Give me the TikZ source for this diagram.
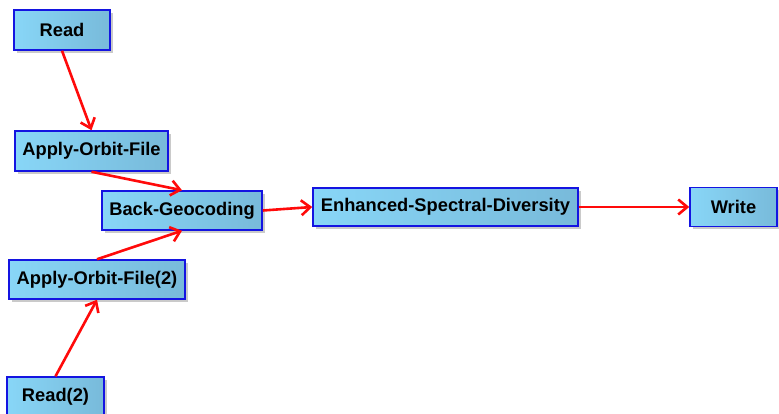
\documentclass[tikz,border=0pt]{standalone}
\usepackage{fontspec}
\setmainfont{Liberation Sans}
\usetikzlibrary{arrows.meta,shadows}
\definecolor{boxL}{RGB}{136,214,247}
\definecolor{boxR}{RGB}{120,186,218}
\definecolor{boxB}{RGB}{20,20,225}
\definecolor{arr}{RGB}{255,10,10}
\tikzset{
  opbox/.style={draw=boxB, line width=1.5pt, left color=boxL, right color=boxR,
    inner sep=0pt, font=\fontsize{18.3}{20}\selectfont\bfseries,
    drop shadow={shadow xshift=3pt, shadow yshift=-3pt, opacity=0.35, fill=black!60}},
  flow/.style={draw=arr, line width=2.6pt, -{Straight Barb[length=9pt,width=15pt,line width=2.6pt]}}
}
\begin{document}
\begin{tikzpicture}[x=1pt,y=-1pt]
\useasboundingbox (0,0) rectangle (779,414);
\node[opbox, minimum width=96pt, minimum height=40pt] (read) at (62,30) {Read};
\node[opbox, minimum width=153pt, minimum height=40pt] (aof) at (91.5,151) {Apply-Orbit-File};
\node[opbox, minimum width=160pt, minimum height=39pt] (bg) at (182,210.5) {Back-Geocoding};
\node[opbox, minimum width=265pt, minimum height=38pt] (esd) at (445.5,207) {Enhanced-Spectral-Diversity};
\node[opbox, minimum width=87pt, minimum height=39pt] (write) at (733.5,207) {Write};
\node[opbox, minimum width=176pt, minimum height=39pt] (aof2) at (97,279.5) {Apply-Orbit-File(2)};
\node[opbox, minimum width=97pt, minimum height=40pt] (read2) at (55.5,397) {Read(2)};
\draw[flow] (read.south) -- (aof.north);
\draw[flow] (aof.south) -- (bg.north);
\draw[flow] (aof2.north) -- (bg.south);
\draw[flow] (read2.north) -- (aof2.south);
\draw[flow] (bg.east) -- (esd.west);
\draw[flow] (esd.east) -- (write.west);
\end{tikzpicture}
\end{document}
